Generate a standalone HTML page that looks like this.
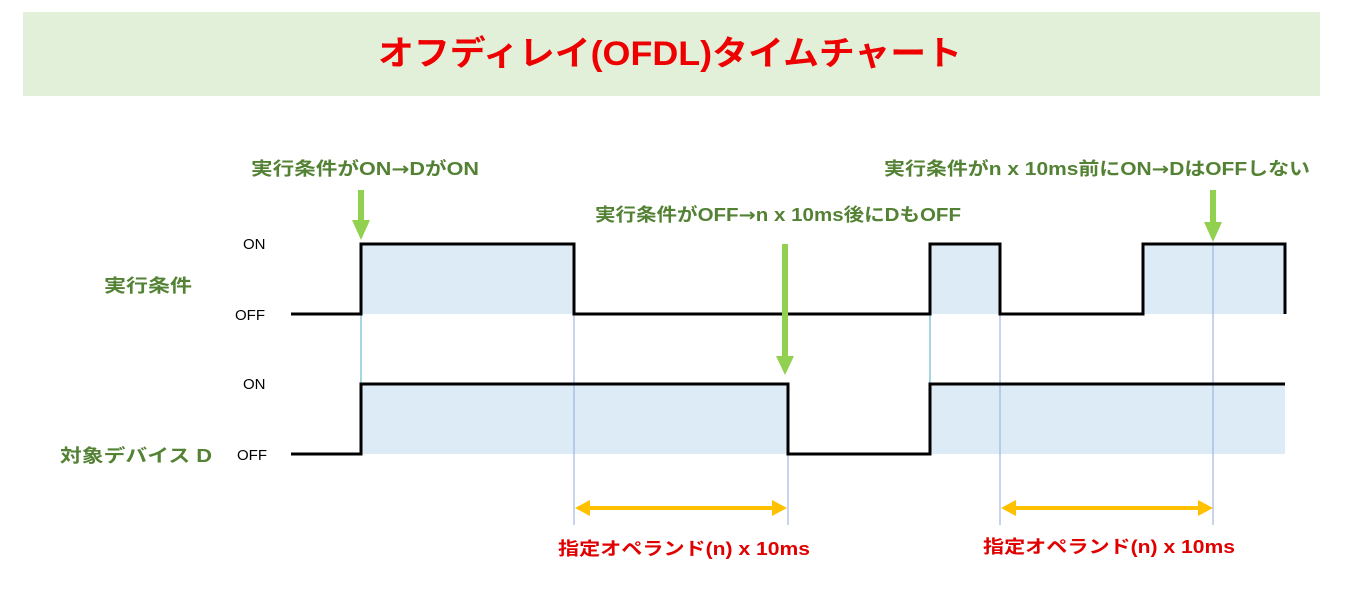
<!DOCTYPE html>
<html><head><meta charset="utf-8"><style>
html,body{margin:0;padding:0;background:#fff;}
svg{display:block;}
.g{fill:#548235;font-weight:bold;font-size:18px;font-family:"Liberation Sans","Noto Sans CJK JP",sans-serif;}
.r{fill:#e00000;font-weight:bold;font-size:18px;font-family:"Liberation Sans","Noto Sans CJK JP",sans-serif;}
.k{fill:#000;font-size:15px;font-family:"Liberation Sans","Noto Sans CJK JP",sans-serif;}
.a{font-family:"DejaVu Sans",sans-serif;}
</style></head><body>
<svg width="1358" height="591" viewBox="0 0 1358 591" xmlns="http://www.w3.org/2000/svg">
<rect x="23" y="12" width="1297" height="84" fill="#e2efd9"/>
<text x="670" y="65" text-anchor="middle" font-size="34" font-weight="bold" fill="#ee0000" font-family="Liberation Sans,Noto Sans CJK JP,sans-serif" textLength="584" lengthAdjust="spacingAndGlyphs">オフディレイ(OFDL)タイムチャート</text>

<g fill="#ddebf7">
<rect x="361" y="244" width="213" height="70"/>
<rect x="930" y="244" width="70" height="70"/>
<rect x="1143" y="244" width="142" height="70"/>
<rect x="361" y="384" width="427" height="70"/>
<rect x="930" y="384" width="355" height="70"/>
</g>
<g stroke-width="1">
<line x1="361" y1="314" x2="361" y2="384" stroke="#4bacc6"/>
<line x1="930" y1="314" x2="930" y2="384" stroke="#4bacc6"/>
<line x1="574" y1="314" x2="574" y2="525" stroke="#8faadc"/>
<line x1="1000" y1="314" x2="1000" y2="525" stroke="#8faadc"/>
<line x1="1213" y1="244" x2="1213" y2="525" stroke="#8faadc"/>
<line x1="788" y1="454" x2="788" y2="525" stroke="#8faadc"/>
</g>
<g fill="none" stroke="#000" stroke-width="3">
<polyline points="291,314 361,314 361,244 574,244 574,314 930,314 930,244 1000,244 1000,314 1143,314 1143,244 1285,244 1285,314"/>
<polyline points="291,454 361,454 361,384 788,384 788,454 930,454 930,384 1285,384"/>
</g>
<g fill="#92d050" stroke="none">
<rect x="358" y="190" width="6" height="32"/><polygon points="352,220 370,220 361,240"/>
<rect x="782" y="244" width="6" height="114"/><polygon points="776,356 794,356 785,375"/>
<rect x="1210" y="190" width="6" height="32"/><polygon points="1204,222 1222,222 1213,242"/>
</g>
<g fill="#ffc000">
<rect x="586" y="506" width="190" height="4"/>
<polygon points="575,508 590,500 590,516"/><polygon points="787,508 772,500 772,516"/>
<rect x="1012" y="506" width="190" height="4"/>
<polygon points="1001,508 1016,500 1016,516"/><polygon points="1213,508 1198,500 1198,516"/>
</g>
<text class="k" x="243" y="249">ON</text>
<text class="k" x="235" y="320">OFF</text>
<text class="k" x="243" y="389">ON</text>
<text class="k" x="237" y="460">OFF</text>
<text class="g" x="104" y="292" textLength="88" lengthAdjust="spacingAndGlyphs">実行条件</text>
<text class="g" x="60" y="462" textLength="152" lengthAdjust="spacingAndGlyphs">対象デバイス D</text>
<text class="g" x="251" y="175" textLength="228" lengthAdjust="spacingAndGlyphs">実行条件がON<tspan class="a">→</tspan>DがON</text>
<text class="g" x="595" y="221" textLength="366" lengthAdjust="spacingAndGlyphs">実行条件がOFF<tspan class="a">→</tspan>n x 10ms後にDもOFF</text>
<text class="g" x="884" y="175" textLength="426" lengthAdjust="spacingAndGlyphs">実行条件がn x 10ms前にON<tspan class="a">→</tspan>DはOFFしない</text>
<text class="r" x="558" y="555" textLength="252" lengthAdjust="spacingAndGlyphs">指定オペランド(n) x 10ms</text>
<text class="r" x="983" y="553" textLength="252" lengthAdjust="spacingAndGlyphs">指定オペランド(n) x 10ms</text>
</svg>
</body></html>
